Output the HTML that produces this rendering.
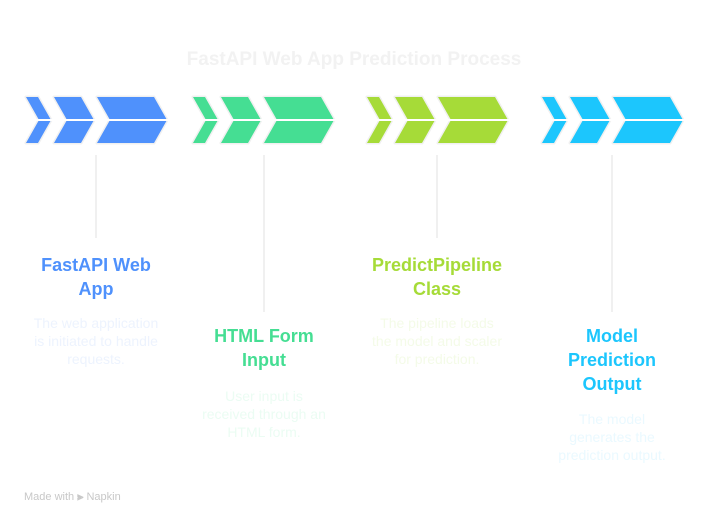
<!DOCTYPE html>
<html><head><meta charset="utf-8"><style>
html,body{margin:0;padding:0;background:#fff;width:708px;height:526px;overflow:hidden}
body{position:relative;font-family:"Liberation Sans",sans-serif}
.t{position:absolute;text-align:center;font-weight:bold;font-size:18px;line-height:24px;width:180px}
.d{position:absolute;text-align:center;font-size:14px;line-height:18px;width:170px}
</style></head><body>
<svg width="708" height="526" style="position:absolute;left:0;top:0">
<g stroke="#f0f0f0" stroke-width="2">
<line x1="96" y1="155" x2="96" y2="238"/>
<line x1="264" y1="155" x2="264" y2="312"/>
<line x1="437" y1="155" x2="437" y2="238"/>
<line x1="612" y1="155" x2="612" y2="312"/>
</g>
<defs>
<g id="ch">
<polygon points="0,97 12,97 25,120 12,143 0,143 13,120"/>
<polygon points="28,97 55,97 68,120 55,143 28,143 41,120"/>
<polygon points="71,97 128,97 141,120 128,143 71,143 84,120"/>
</g>
</defs>
<g stroke="#f0f0f0" stroke-width="3" stroke-linejoin="round">
<use href="#ch" x="26" fill="#4F91FC"/>
<use href="#ch" x="193" fill="#45DE93"/>
<use href="#ch" x="367" fill="#A6DB38"/>
<use href="#ch" x="542" fill="#1CC6FD"/>
</g>
<g fill="#4F91FC"><use href="#ch" x="26"/></g>
<g fill="#45DE93"><use href="#ch" x="193"/></g>
<g fill="#A6DB38"><use href="#ch" x="367"/></g>
<g fill="#1CC6FD"><use href="#ch" x="542"/></g>
<line x1="20" y1="120" x2="690" y2="120" stroke="#fff" stroke-width="2"/>
</svg>
<div style="position:absolute;left:0;width:708px;top:49px;text-align:center;font-size:19px;font-weight:bold;color:#f2f2f2">FastAPI Web App Prediction Process</div>
<div class="t" style="left:6px;top:253px;color:#4F91FC">FastAPI Web<br>App</div>
<div class="d" style="left:11px;top:314px;color:#edf3fe">The web application<br>is initiated to handle<br>requests.</div>
<div class="t" style="left:174px;top:324px;color:#45DE93">HTML Form<br>Input</div>
<div class="d" style="left:179px;top:387px;color:#ebfcf3">User input is<br>received through an<br>HTML form.</div>
<div class="t" style="left:347px;top:253px;color:#A6DB38">PredictPipeline<br>Class</div>
<div class="d" style="left:352px;top:314px;color:#f4fbe8">The pipeline loads<br>the model and scaler<br>for prediction.</div>
<div class="t" style="left:522px;top:324px;color:#1CC6FD">Model<br>Prediction<br>Output</div>
<div class="d" style="left:527px;top:410px;color:#eaf9ff">The model<br>generates the<br>prediction output.</div>
<div style="position:absolute;left:24px;top:491px;font-size:11px;color:#c8c8c8">Made with <span style="font-weight:bold">⫸</span> Napkin</div>
</body></html>
